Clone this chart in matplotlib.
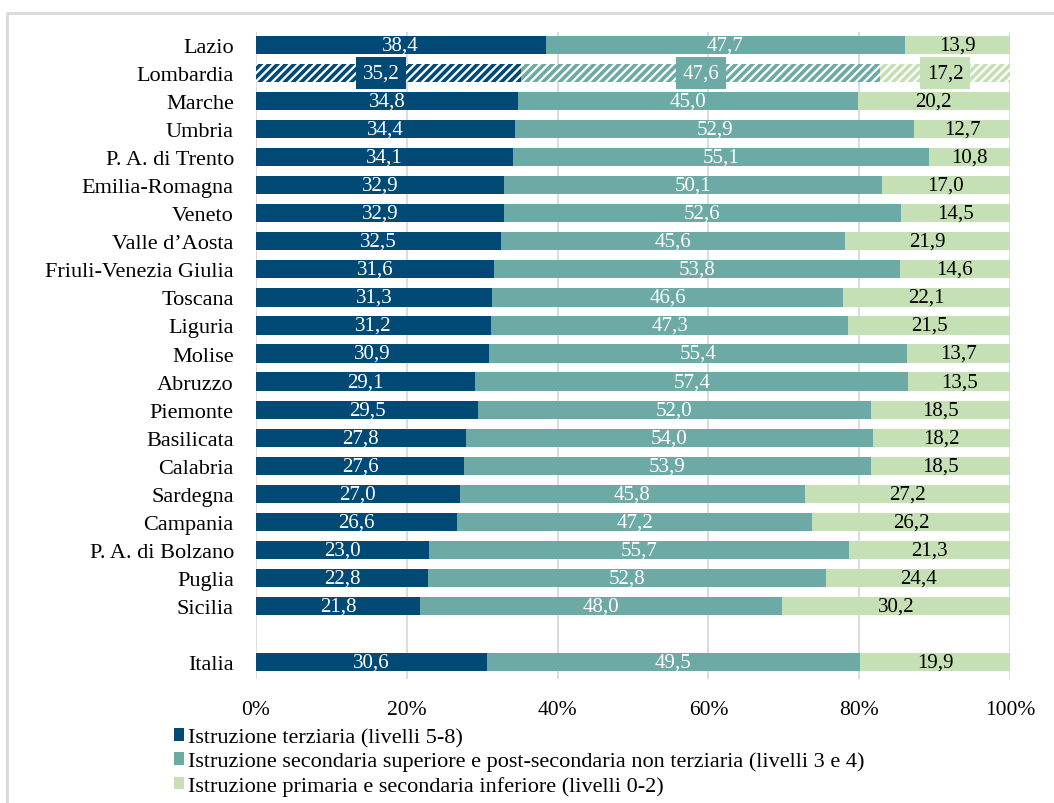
import numpy as np
import matplotlib
matplotlib.use("Agg")
import matplotlib.pyplot as plt
from matplotlib.patches import Rectangle, Patch

plt.rcParams['font.family'] = ['Liberation Serif', 'DejaVu Serif']
plt.rcParams['hatch.linewidth'] = 2.6

# data
regions = ["Lazio", "Lombardia", "Marche", "Umbria", "P. A. di Trento",
           "Emilia-Romagna", "Veneto", "Valle d\u2019Aosta", "Friuli-Venezia Giulia",
           "Toscana", "Liguria", "Molise", "Abruzzo", "Piemonte", "Basilicata",
           "Calabria", "Sardegna", "Campania", "P. A. di Bolzano", "Puglia",
           "Sicilia", "Italia"]
terziaria = [38.4, 35.2, 34.8, 34.4, 34.1, 32.9, 32.9, 32.5, 31.6, 31.3, 31.2,
             30.9, 29.1, 29.5, 27.8, 27.6, 27.0, 26.6, 23.0, 22.8, 21.8, 30.6]
secondaria = [47.7, 47.6, 45.0, 52.9, 55.1, 50.1, 52.6, 45.6, 53.8, 46.6, 47.3,
              55.4, 57.4, 52.0, 54.0, 53.9, 45.8, 47.2, 55.7, 52.8, 48.0, 49.5]
primaria = [13.9, 17.2, 20.2, 12.7, 10.8, 17.0, 14.5, 21.9, 14.6, 22.1, 21.5,
            13.7, 13.5, 18.5, 18.2, 18.5, 27.2, 26.2, 21.3, 24.4, 30.2, 19.9]
legend_labels = ["Istruzione terziaria (livelli 5-8)",
                 "Istruzione secondaria superiore e post-secondaria non terziaria (livelli 3 e 4)",
                 "Istruzione primaria e secondaria inferiore (livelli 0-2)"]
highlight = "Lombardia"

colors = ["#004A75", "#6DAAA5", "#C5E0B4"]
text_colors = ["white", "white", "black"]

# positions: gap before Italia
ypos = list(range(len(regions) - 1)) + [len(regions)]

fig = plt.figure(figsize=(10.54, 8.04), dpi=100)
ax = fig.add_axes([256/1054, 1 - 680/804, 754/1054, 647/804])

series = [terziaria, secondaria, primaria]
left = np.zeros(len(regions))
for k, vals in enumerate(series):
    vals = np.array(vals)
    for i, reg in enumerate(regions):
        lab = f"{vals[i]:.1f}".replace(".", ",")
        if reg == highlight:
            ax.barh(ypos[i], vals[i], left=left[i], height=0.65, facecolor="white",
                    edgecolor=colors[k], hatch="////", linewidth=0, zorder=2)
            ax.text(left[i] + vals[i] / 2 - (1.0 if k == 0 else 0), ypos[i], lab,
                    ha="center", va="center", color=text_colors[k], fontsize=15, zorder=4,
                    bbox=dict(boxstyle="square,pad=0.32", fc=colors[k], ec="none"))
        else:
            ax.barh(ypos[i], vals[i], left=left[i], height=0.65, color=colors[k],
                    linewidth=0, zorder=2)
            ax.text(left[i] + vals[i] / 2, ypos[i], lab, ha="center", va="center",
                    color=text_colors[k], fontsize=15, zorder=4)
    left += vals

ax.set_xlim(0, 100)
ax.set_ylim(22.6, -0.46)
ax.set_xticks(np.arange(0, 101, 20))
ax.set_xticklabels([f"{v}%" for v in range(0, 101, 20)], fontsize=15.5)
ax.set_yticks(ypos)
ax.set_yticklabels(regions, fontsize=16)
ax.tick_params(axis="both", length=0)
ax.tick_params(axis="y", pad=16)
ax.tick_params(axis="x", pad=15)
ax.grid(axis="x", color="#D9D9D9", linewidth=1.3, zorder=0)
ax.set_axisbelow(True)
for s in ax.spines.values():
    s.set_visible(False)

handles = [Patch(facecolor=c, edgecolor="none") for c in colors]
fig.legend(handles, legend_labels, loc="upper left", bbox_to_anchor=(174/1054, 1 - 729/804),
           frameon=False, fontsize=16, handlelength=0.45, handleheight=0.5,
           handletextpad=0.2, labelspacing=0.2, borderaxespad=0, borderpad=0)

# outer frame
fig.add_artist(Rectangle((7/1054, -0.05), 1.1, 1 - 14/804 + 0.05, transform=fig.transFigure,
                         fill=False, edgecolor="#D9D9D9", linewidth=2))

fig.savefig("out.png", dpi=100)
